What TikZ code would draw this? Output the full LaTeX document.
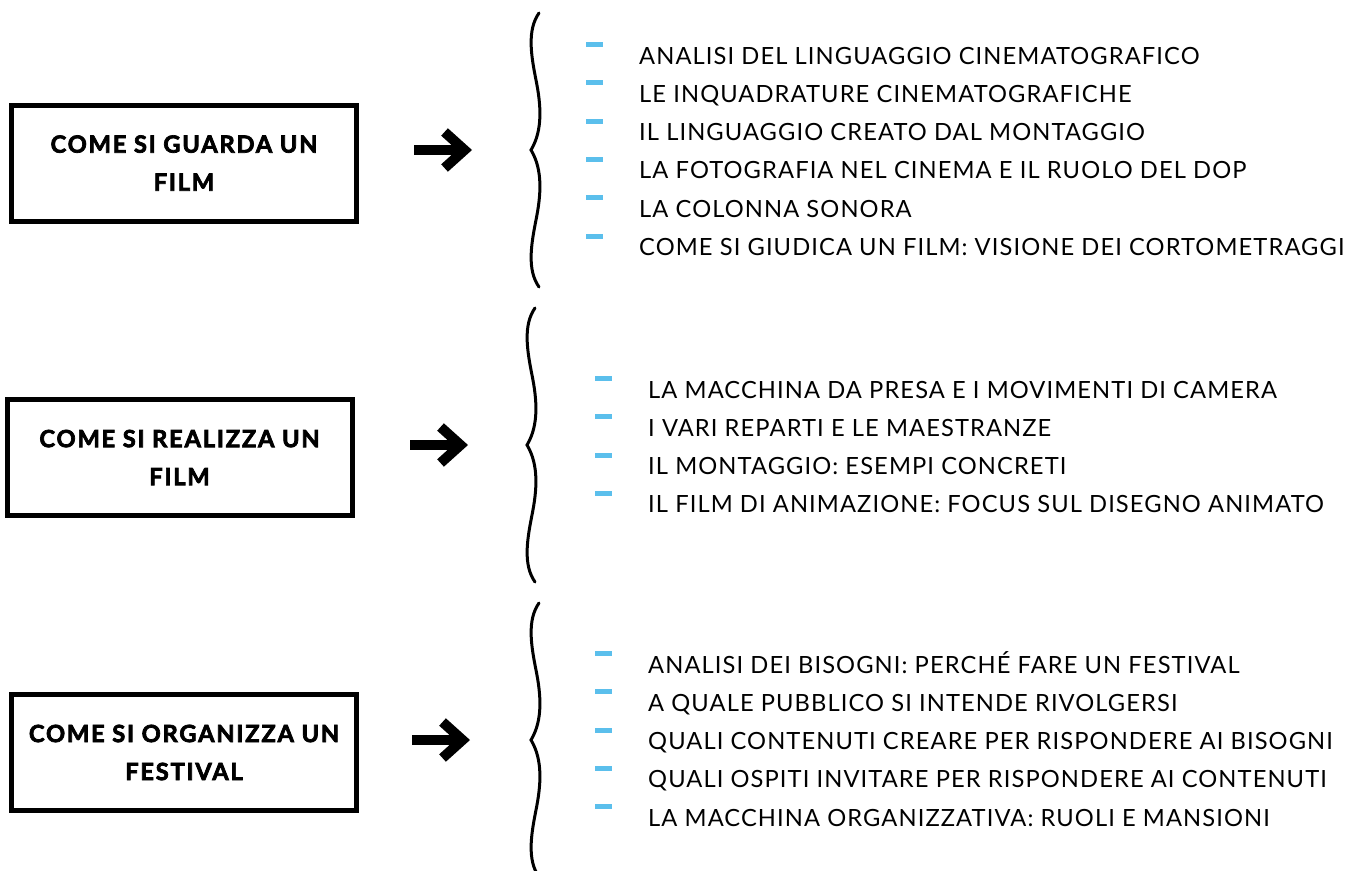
\documentclass[tikz,border=0pt]{standalone}
\usepackage{fontspec}
\setmainfont{Lato}[LetterSpace=4.6, BoldFeatures={LetterSpace=7.5, FakeBold=3}]
\usetikzlibrary{positioning,arrows.meta}
\definecolor{azzurro}{HTML}{5BBFEC}

\tikzset{
    modulo/.style={draw, line width=5pt, minimum width=345pt, minimum height=116pt,
        align=center, font=\bfseries\fontsize{23.7}{38}\selectfont},
    trattino/.style={fill=azzurro, inner sep=0pt, minimum width=17pt, minimum height=5pt},
    voce/.style={anchor=base west, inner sep=0pt, text height=17pt, text depth=0pt,
        font=\fontsize{23.7}{28}\selectfont,
        label={[trattino, label distance=36pt, yshift=11pt]left:{}}},
    freccia/.style={line width=10pt, -{Straight Barb[sharp, length=20pt, width=36pt]}},
    graffa/.style={line width=3pt, line cap=round},
    riccio/.pic={
        \draw[graffa] (8,-137) .. controls (-4,-120) and (0,-95) .. (5,-70)
            .. controls (10,-45) and (12,-20) .. (0,0)
            .. controls (12,20) and (10,45) .. (5,70)
            .. controls (0,95) and (-4,120) .. (8,137);
    }
}

\begin{document}
\begin{tikzpicture}[x=1pt, y=-1pt]
    \useasboundingbox (0,0) rectangle (1362,870);

    % i tre moduli
    \node[modulo] (guarda) at (184,163) {COME SI GUARDA UN\\FILM};
    \node[modulo] (realizza) at (179.5,457.5) {COME SI REALIZZA UN\\FILM};
    \node[modulo] (organizza) at (184,752.5) {COME SI ORGANIZZA UN\\FESTIVAL};

    % frecce
    \coordinate (f1a) at (414,150);
    \coordinate (f1b) at (472,150);
    \coordinate (f2a) at (410,445);
    \coordinate (f2b) at (468,445);
    \coordinate (f3a) at (412,740);
    \coordinate (f3b) at (470,740);
    \draw[freccia] (f1a) -- (f1b);
    \draw[freccia] (f2a) -- (f2b);
    \draw[freccia] (f3a) -- (f3b);

    % graffe
    \pic at (531,150) {riccio};
    \pic at (527,445) {riccio};
    \pic at (531,740) {riccio};

    % primo modulo
    \node[voce] (g1a) at (639,64) {ANALISI DEL LINGUAGGIO CINEMATOGRAFICO};
    \node[voce] (g1b) at (639,102.3) {LE INQUADRATURE CINEMATOGRAFICHE};
    \node[voce] (g1c) at (639,140.6) {IL LINGUAGGIO CREATO DAL MONTAGGIO};
    \node[voce] (g1d) at (639,178.9) {LA FOTOGRAFIA NEL CINEMA E IL RUOLO DEL DOP};
    \node[voce] (g1e) at (639,217.2) {LA COLONNA SONORA};
    \node[voce] (g1f) at (639,255.5) {COME SI GIUDICA UN FILM: VISIONE DEI CORTOMETRAGGI};

    % secondo modulo
    \node[voce] (g2a) at (648,398) {LA MACCHINA DA PRESA E I MOVIMENTI DI CAMERA};
    \node[voce] (g2b) at (648,436.3) {I VARI REPARTI E LE MAESTRANZE};
    \node[voce] (g2c) at (648,474.6) {IL MONTAGGIO: ESEMPI CONCRETI};
    \node[voce] (g2d) at (648,512.9) {IL FILM DI ANIMAZIONE: FOCUS SUL DISEGNO ANIMATO};

    % terzo modulo
    \node[voce] (g3a) at (648,673) {ANALISI DEI BISOGNI: PERCHÉ FARE UN FESTIVAL};
    \node[voce] (g3b) at (648,711.3) {A QUALE PUBBLICO SI INTENDE RIVOLGERSI};
    \node[voce] (g3c) at (648,749.6) {QUALI CONTENUTI CREARE PER RISPONDERE AI BISOGNI};
    \node[voce] (g3d) at (648,787.9) {QUALI OSPITI INVITARE PER RISPONDERE AI CONTENUTI};
    \node[voce] (g3e) at (648,826.2) {LA MACCHINA ORGANIZZATIVA: RUOLI E MANSIONI};
\end{tikzpicture}
\end{document}
